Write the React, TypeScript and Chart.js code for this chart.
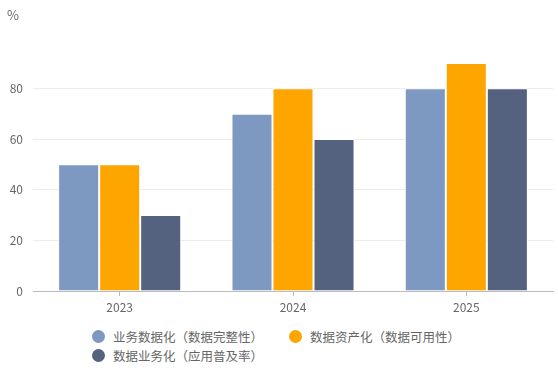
import React, { useEffect, useRef } from "react";
import { Chart, registerables } from "chart.js";

Chart.register(...registerables);

const categories = ["2023", "2024", "2025"];
const seriesNames = ["业务数据化（数据完整性）", "数据资产化（数据可用性）", "数据业务化（应用普及率）"];
const businessData = [50, 70, 80];
const dataAssets = [50, 80, 90];
const dataBusiness = [30, 60, 80];
const seriesColors = ["#7d98c1", "#ffa500", "#546280"];
const yTicks = [0, 20, 40, 60, 80];
const yUnit = "%";

const FONT = "'Microsoft YaHei', 'Noto Sans CJK SC', sans-serif";

export default function App() {
  const ref = useRef<HTMLCanvasElement>(null);
  useEffect(() => {
    const unitPlugin = {
      id: "unit",
      afterDraw(chart: any) {
        const ctx = chart.ctx;
        ctx.save();
        ctx.font = `13px ${FONT}`;
        ctx.fillStyle = "#666";
        ctx.textBaseline = "middle";
        ctx.textAlign = "left";
        ctx.fillText(yUnit, 7, 15);
        ctx.restore();
      },
    };
    const values = [businessData, dataAssets, dataBusiness];
    const chart = new Chart(ref.current!, {
      type: "bar",
      data: {
        labels: categories,
        datasets: values.map((d, i) => ({
          label: seriesNames[i],
          data: d,
          backgroundColor: seriesColors[i],
          borderColor: "rgba(255,255,255,0.9)",
          borderWidth: 1,
          barPercentage: 1,
          categoryPercentage: 0.71,
        })),
      },
      options: {
        animation: false,
        responsive: false,
        maintainAspectRatio: false,
        layout: { padding: { top: 63, right: 5, left: 0, bottom: 0 } },
        plugins: {
          legend: { display: false },
          tooltip: { enabled: false },
        },
        scales: {
          x: {
            grid: {
              display: true,
              drawOnChartArea: false,
              drawTicks: true,
              tickLength: 5,
              color: "#bbb",
              offset: false,
            },
            border: { display: true, color: "#bbb", width: 1 },
            ticks: { color: "#666", font: { size: 12, family: FONT }, padding: 4 },
            afterFit: (s: any) => { s.height = 29; },
          },
          y: {
            min: 0,
            max: 90,
            afterBuildTicks: (s: any) => {
              s.ticks = yTicks.map((v) => ({ value: v }));
            },
            grid: {
              color: (c: any) => (c.tick && c.tick.value === 0 ? "rgba(0,0,0,0)" : "#ececec"),
              drawTicks: false,
            },
            border: { display: false },
            ticks: { color: "#666", font: { size: 12, family: FONT }, padding: 10 },
            afterFit: (s: any) => { s.width = 33; },
          },
        },
      },
      plugins: [unitPlugin],
    });
    return () => chart.destroy();
  }, []);

  const legendItem = (i: number, w?: number) => (
    <div style={{ display: "flex", alignItems: "center", width: w, whiteSpace: "nowrap" }}>
      <span style={{ width: 13, height: 13, borderRadius: "50%", background: seriesColors[i], display: "inline-block", marginRight: 8, flex: "none" }} />
      <span>{seriesNames[i]}</span>
    </div>
  );

  return (
    <div style={{ position: "fixed", left: 0, top: 0, width: 558, height: 371, background: "#fff", fontFamily: FONT }}>
      <canvas ref={ref} width={558} height={320} style={{ display: "block" }} />
      <div style={{ position: "absolute", left: 92, top: 327, fontSize: 12.5, color: "#666", lineHeight: "19px" }}>
        <div style={{ display: "flex" }}>
          {legendItem(0, 197)}
          {legendItem(1)}
        </div>
        <div style={{ display: "flex" }}>{legendItem(2)}</div>
      </div>
    </div>
  );
}
